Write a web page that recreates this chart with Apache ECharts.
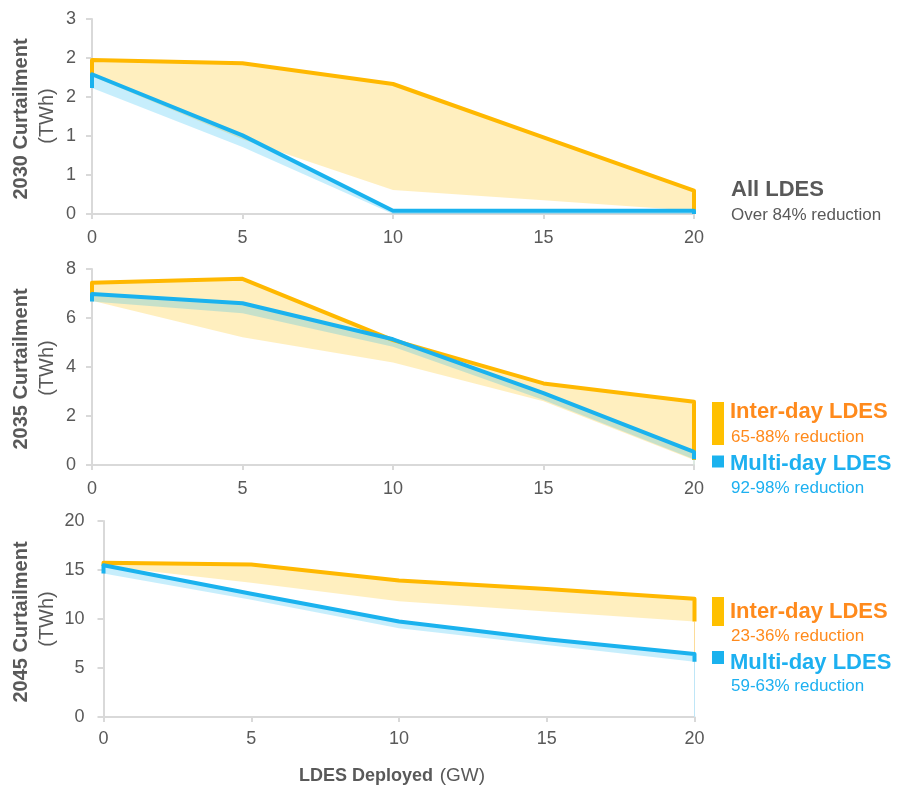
<!DOCTYPE html>
<html>
<head>
<meta charset="utf-8">
<script src="https://cdn.jsdelivr.net/npm/echarts@6/dist/echarts.min.js"></script>
<style>
  html, body { margin: 0; padding: 0; background: #fff; }
  #chart { width: 899px; height: 785px; }
</style>
</head>
<body>
<div id="chart"></div>
<script>
// LDES deployed (GW)
const deployedGW = [0, 5, 10, 15, 20];
const xTicks = { min: 0, max: 20, interval: 5 };

// 2030 curtailment (TWh)
const interDay2030High = [2.37, 2.32, 2.0, 1.18, 0.36];
const interDay2030Low  = [2.12, 1.15, 0.37, 0.21, 0.05];
const multiDay2030High = [2.15, 1.21, 0.05, 0.05, 0.05];
const multiDay2030Low  = [1.94, 1.03, 0.0, 0.0, 0.0];

// 2035 curtailment (TWh)
const interDay2035High = [7.44, 7.6, 5.1, 3.33, 2.58];
const interDay2035Low  = [6.7, 5.21, 4.18, 2.6, 0.2];
const multiDay2035High = [6.98, 6.6, 5.13, 2.93, 0.54];
const multiDay2035Low  = [6.67, 6.19, 4.83, 2.65, 0.23];

// 2045 curtailment (TWh)
const interDay2045High = [15.73, 15.56, 13.92, 13.07, 12.07];
const interDay2045Low  = [15.4, 13.7, 11.8, 10.77, 9.74];
const multiDay2045High = [15.49, 12.58, 9.74, 7.94, 6.43];
const multiDay2045Low  = [14.64, 11.97, 9.06, 7.35, 5.64];

// y-axis scales per panel
const yScale2030 = { min: 0, max: 3, interval: 0.6 };
const yScale2035 = { min: 0, max: 8, interval: 2 };
const yScale2045 = { min: 0, max: 20, interval: 5 };

// panel titles and callouts
const panelTitles = ['2030 Curtailment', '2035 Curtailment', '2045 Curtailment'];
const unitLabel = '(TWh)';
const allLabel = 'All LDES';
const allNote = 'Over 84% reduction';
const interLabel = 'Inter-day LDES';
const multiLabel = 'Multi-day LDES';
const interNotes = ['65-88% reduction', '23-36% reduction'];
const multiNotes = ['92-98% reduction', '59-63% reduction'];

const FONT = '"Liberation Sans", Arial, sans-serif';
const GREY = '#595959';
const AXIS = '#D9D9D9';
const ORANGE_LINE = '#FFB800';
const BLUE_LINE = '#1AB2EE';
const ORANGE_FILL = 'rgba(255, 190, 0, 0.25)';
const BLUE_FILL = 'rgba(0, 176, 240, 0.22)';
const ORANGE_TEXT = '#FF8A1C';
const BLUE_TEXT = '#1DB0F0';

const chart = echarts.init(document.getElementById('chart'), null, { renderer: 'canvas' });

const grids = [
  { left: 92, top: 19, width: 602, height: 195 },
  { left: 92, top: 269, width: 602, height: 196 },
  { left: 103.5, top: 521, width: 591, height: 196 }
];

function xAxis(i, labelMargin) {
  return {
    type: 'value', gridIndex: i, min: xTicks.min, max: xTicks.max, interval: xTicks.interval,
    axisLine: { show: true, lineStyle: { color: AXIS, width: 2 } },
    axisTick: { show: true, length: 5, lineStyle: { color: AXIS, width: 2 } },
    axisLabel: { color: GREY, fontSize: 18, fontFamily: FONT, margin: labelMargin },
    splitLine: { show: false }
  };
}

function yAxis(i, scale, labelMargin, fmt) {
  return {
    type: 'value', gridIndex: i, min: scale.min, max: scale.max, interval: scale.interval,
    axisLine: { show: true, lineStyle: { color: AXIS, width: 2 } },
    axisTick: { show: true, length: 6, lineStyle: { color: AXIS, width: 2 } },
    axisLabel: { color: GREY, fontSize: 18, fontFamily: FONT, margin: labelMargin, formatter: fmt },
    splitLine: { show: false }
  };
}

// filled range between a low and a high curve, drawn as one polygon
function band(i, low, high, fill, z) {
  return {
    type: 'custom', xAxisIndex: i, yAxisIndex: i, z: z, silent: true,
    data: deployedGW.map((x, k) => [x, low[k], high[k]]),
    encode: { x: 0, y: [1, 2] },
    renderItem: function (params, api) {
      if (params.dataIndex !== 0) return null;
      const top = deployedGW.map((x, k) => api.coord([x, high[k]]));
      const bottom = deployedGW.map((x, k) => api.coord([x, low[k]])).reverse();
      return { type: 'polygon', shape: { points: top.concat(bottom) }, style: { fill: fill } };
    }
  };
}

// outline across the top of a range, closed down to the low value at both ends
function outline(i, low, high, color, z) {
  const n = deployedGW.length;
  const pts = [[deployedGW[0], low[0]]]
    .concat(deployedGW.map((x, k) => [x, high[k]]))
    .concat([[deployedGW[n - 1], low[n - 1]]]);
  return {
    type: 'line', xAxisIndex: i, yAxisIndex: i, z: z, silent: true,
    data: pts, showSymbol: false, symbol: 'none', animation: false,
    lineStyle: { color: color, width: 4, join: 'round' }
  };
}

// faint drop from the low end of a range to the axis at the last point
function drop(i, low, color, z) {
  const n = deployedGW.length;
  return {
    type: 'line', xAxisIndex: i, yAxisIndex: i, z: z, silent: true,
    data: [[deployedGW[n - 1], low[n - 1]], [deployedGW[n - 1], 0]],
    showSymbol: false, symbol: 'none', animation: false,
    lineStyle: { color: color, width: 1 }
  };
}

function panelSeries(i, iLow, iHigh, mLow, mHigh) {
  return [
    band(i, iLow, iHigh, ORANGE_FILL, 1),
    band(i, mLow, mHigh, BLUE_FILL, 2),
    drop(i, iLow, '#FCDC9A', 3),
    drop(i, mLow, '#BFE6F7', 3),
    outline(i, iLow, iHigh, ORANGE_LINE, 4),
    outline(i, mLow, mHigh, BLUE_LINE, 5)
  ];
}

function text(x, y, str, size, color, bold, extra) {
  return Object.assign({
    type: 'text', x: x, y: y, silent: true,
    style: {
      text: str, fill: color, fontSize: size, fontFamily: FONT,
      fontWeight: bold ? 'bold' : 'normal', textVerticalAlign: 'middle', textAlign: 'left'
    }
  }, extra || {});
}

function axisTitle(cx, cy, str, bold) {
  return {
    type: 'text', x: cx, y: cy, rotation: Math.PI / 2, silent: true,
    style: {
      text: str, fill: GREY, fontSize: 20, fontFamily: FONT,
      fontWeight: bold ? 'bold' : 'normal', textAlign: 'center', textVerticalAlign: 'middle'
    }
  };
}

const graphics = [
  axisTitle(21, 119, panelTitles[0], true),
  axisTitle(47, 116, unitLabel, false),
  axisTitle(21, 369, panelTitles[1], true),
  axisTitle(47, 368, unitLabel, false),
  axisTitle(21, 622, panelTitles[2], true),
  axisTitle(47, 619, unitLabel, false),

  text(731, 190, allLabel, 22, GREY, true),
  text(731, 215, allNote, 17, GREY, false),

  { type: 'rect', shape: { x: 712, y: 402, width: 12, height: 43 }, style: { fill: '#FFC000' }, silent: true },
  text(730, 412, interLabel, 22, ORANGE_TEXT, true),
  text(731, 437.5, interNotes[0], 17, ORANGE_TEXT, false),
  { type: 'rect', shape: { x: 712, y: 455.5, width: 12, height: 12 }, style: { fill: BLUE_LINE }, silent: true },
  text(730, 463.5, multiLabel, 22, BLUE_TEXT, true),
  text(731, 488, multiNotes[0], 17, BLUE_TEXT, false),

  { type: 'rect', shape: { x: 712, y: 597, width: 12, height: 29 }, style: { fill: '#FFC000' }, silent: true },
  text(730, 611.5, interLabel, 22, ORANGE_TEXT, true),
  text(731, 636, interNotes[1], 17, ORANGE_TEXT, false),
  { type: 'rect', shape: { x: 712, y: 651, width: 12, height: 13 }, style: { fill: BLUE_LINE }, silent: true },
  text(730, 663, multiLabel, 22, BLUE_TEXT, true),
  text(731, 686.5, multiNotes[1], 17, BLUE_TEXT, false),

  {
    type: 'text', x: 392, y: 776, silent: true,
    style: {
      text: '{b|LDES Deployed}  {n|(GW)}', textAlign: 'center', textVerticalAlign: 'middle',
      rich: {
        b: { fontSize: 18, fontWeight: 'bold', fill: GREY, color: GREY, fontFamily: FONT },
        n: { fontSize: 19, fill: GREY, color: GREY, fontFamily: FONT }
      }
    }
  }
];

const option = {
  backgroundColor: '#ffffff',
  animation: false,
  grid: grids,
  xAxis: [xAxis(0, 15), xAxis(1, 15), xAxis(2, 13)],
  yAxis: [
    yAxis(0, yScale2030, 16, v => String(Math.round(v))),
    yAxis(1, yScale2035, 16),
    yAxis(2, yScale2045, 19)
  ],
  series: [].concat(
    panelSeries(0, interDay2030Low, interDay2030High, multiDay2030Low, multiDay2030High),
    panelSeries(1, interDay2035Low, interDay2035High, multiDay2035Low, multiDay2035High),
    panelSeries(2, interDay2045Low, interDay2045High, multiDay2045Low, multiDay2045High)
  ),
  graphic: graphics
};

chart.setOption(option);
</script>
</body>
</html>
